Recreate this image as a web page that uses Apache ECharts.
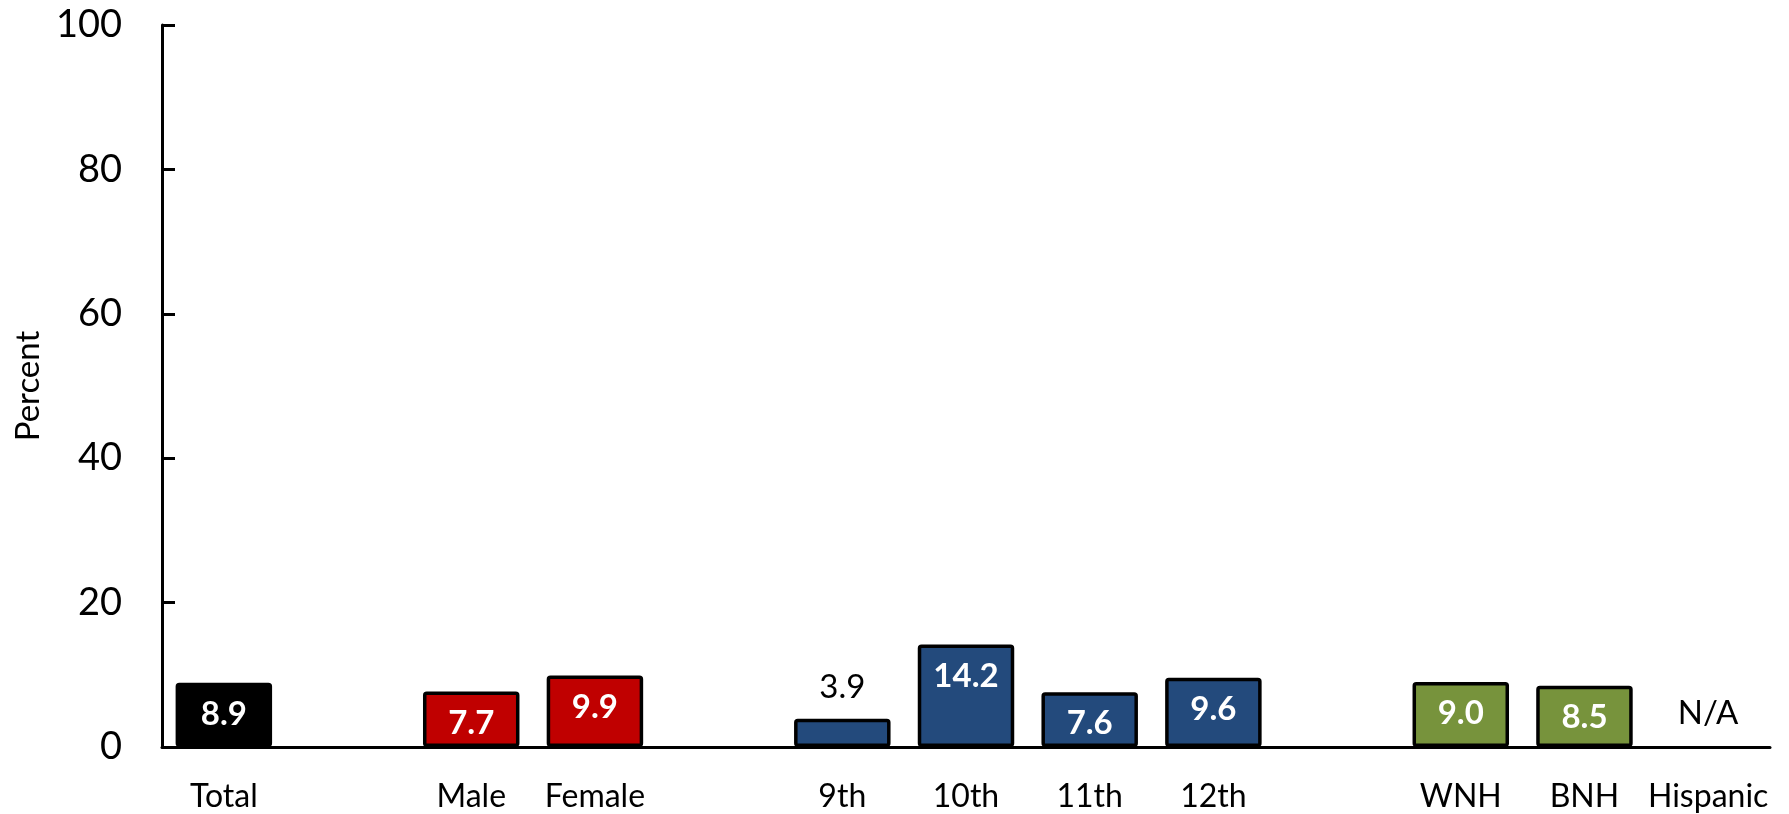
<!DOCTYPE html>
<html>
<head>
<meta charset="utf-8">
<script src="https://cdn.jsdelivr.net/npm/echarts@6/dist/echarts.min.js"></script>
<style>
html,body{margin:0;padding:0;background:#fff;}
#chart{width:1789px;height:814px;}
</style>
</head>
<body>
<div id="chart"></div>
<script>
const categories = ['Total', ' ', 'Male', 'Female', '  ', '9th', '10th', '11th', '12th', '   ', 'WNH', 'BNH', 'Hispanic'];
const groups = ['total', null, 'sex', 'sex', null, 'grade', 'grade', 'grade', 'grade', null, 'race', 'race', 'race'];
const values = [8.9, null, 7.7, 9.9, null, 3.9, 14.2, 7.6, 9.6, null, 9.0, 8.5, 'N/A'];
const yTicks = [0, 20, 40, 60, 80, 100];

const groupColors = { total: '#000000', sex: '#C00000', grade: '#234A7C', race: '#77933C' };
const FONT = 'Lato';

const data = values.map((v, i) => {
  if (v === null) return { value: null };
  if (v === 'N/A') {
    return {
      value: 0,
      itemStyle: { color: 'transparent', borderWidth: 0 },
      label: { show: true, position: 'top', distance: 17, formatter: 'N/A', color: '#000', fontWeight: 'normal' }
    };
  }
  const item = { value: v, itemStyle: { color: groupColors[groups[i]] } };
  if (v < 5) {
    item.label = { show: true, position: 'top', distance: 15, color: '#000', fontWeight: 'normal' };
  }
  return item;
});

const chart = echarts.init(document.getElementById('chart'));
chart.setOption({
  animation: false,
  grid: { left: 162, right: 19, top: 25, bottom: 67, containLabel: false, outerBoundsMode: 'none' },
  xAxis: {
    type: 'category',
    data: categories,
    axisLine: { show: true, lineStyle: { color: '#000', width: 3 } },
    axisTick: { show: false },
    axisLabel: { color: '#000', fontSize: 32, fontFamily: FONT, margin: 34, interval: 0 }
  },
  yAxis: {
    type: 'value',
    min: 0, max: 100, interval: 20,
    name: 'Percent',
    nameLocation: 'middle',
    nameGap: 117,
    nameTextStyle: { color: '#000', fontSize: 33, fontFamily: FONT },
    axisLine: { show: true, lineStyle: { color: '#000', width: 3 } },
    axisTick: { show: true, inside: true, length: 13, lineStyle: { color: '#000', width: 3 } },
    axisLabel: {
      color: '#000', fontSize: 38, fontFamily: FONT, margin: 40,
      formatter: v => yTicks.includes(v) ? String(v) : ''
    },
    splitLine: { show: false }
  },
  series: [{
    type: 'bar',
    data: data,
    barWidth: '78%',
    itemStyle: { borderColor: '#000', borderWidth: 3.5, borderRadius: 2 },
    label: {
      show: true,
      position: 'insideTop',
      distance: 15,
      color: '#fff',
      fontWeight: 'bold',
      fontSize: 33,
      fontFamily: FONT,
      formatter: p => (typeof p.value === 'number' ? p.value.toFixed(1) : '')
    }
  }]
});
</script>
</body>
</html>
